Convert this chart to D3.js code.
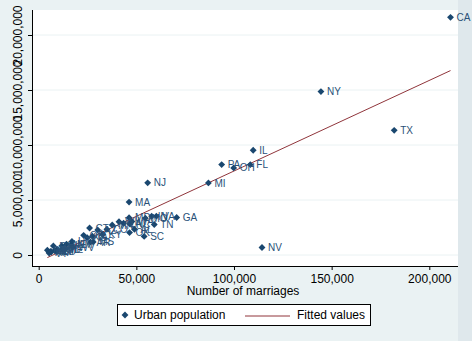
<!DOCTYPE html>
<html><head><meta charset="utf-8">
<script src="https://cdn.jsdelivr.net/npm/d3@7"></script>
<style>body{margin:0;background:#eaf2f3}svg{display:block;font-family:"Liberation Sans",Arial,sans-serif}</style>
</head><body><svg id="c" width="472" height="341"></svg>
<script>
const states=["AL","AK","AZ","AR","CA","CO","CT","DE","FL","GA","HI","ID","IL","IN","IA","KS","KY","LA","ME","MD","MA","MI","MN","MS","MO","MT","NE","NV","NH","NJ","NM","NY","NC","ND","OH","OK","OR","PA","RI","SC","SD","TN","TX","UT","VT","VA","WA","WV","WI","WY"];
const marriage=[49018,5361,30223,26513,210864,34917,26048,4437,108344,70638,11856,13428,109823,57853,27474,24847,32727,43460,12040,46278,46273,86898,37641,27908,54625,8336,14239,114333,9251,55794,16641,144518,46718,6094,99832,46515,23004,93680,7505,53999,8922,59175,182030,17023,5341,60247,47750,17362,41111,6514];
const urban=[2337713,258567,2278728,1179556,21607606,2329869,2449774,441351,8212385,3409081,834592,509702,9518039,3525298,1708232,1575899,1862183,2887309,534072,3386555,4808339,6551551,2725202,1192805,3349588,416402,987859,682947,480325,6557377,939963,14858068,2822852,318310,7918259,2035082,1788354,8220851,824004,1689253,320777,2773573,11333017,1233060,172735,3529423,3037014,705319,3020732,294639];
const xTicks=[0,50000,100000,150000,200000];
const yTicks=[0,5000000,10000000,15000000,20000000];
const legendLabels=["Urban population","Fitted values"];

const svg=d3.select("#c");
const navy="#1a476f", maroon="#90353b";
svg.append("rect").attr("x",458).attr("y",0).attr("width",14).attr("height",341).attr("fill","#dfe8ec");
svg.append("rect").attr("x",32).attr("y",10).attr("width",426).attr("height",256).attr("fill","#fff");

const x=d3.scaleLinear().domain([0,200000]).range([38.7,429.3]);
const y=d3.scaleLinear().domain([0,20000000]).range([255,35]);
const fmt=d3.format(",");

svg.append("g").selectAll("line").data(yTicks).join("line")
  .attr("x1",32).attr("x2",458).attr("y1",d=>y(d)).attr("y2",d=>y(d))
  .attr("stroke","#eaf2f3").attr("stroke-width",1);

const gy=svg.append("g").attr("transform","translate(32,0)")
  .call(d3.axisLeft(y).tickValues(yTicks).tickFormat(fmt).tickSize(4).tickSizeOuter(0));
gy.select(".domain").attr("d","M0.5,10V266.5");
gy.selectAll(".tick line").attr("stroke","#000");
gy.selectAll(".tick text").attr("transform","rotate(-90)").attr("x",0).attr("y",-10.5)
  .attr("dy",0).attr("text-anchor","middle").attr("font-size",12).attr("fill","#000")
  .style("font-family","'Liberation Sans',Arial,sans-serif");
const gx=svg.append("g").attr("transform","translate(0,266)")
  .call(d3.axisBottom(x).tickValues(xTicks).tickFormat(fmt).tickSize(4).tickSizeOuter(0));
gx.select(".domain").attr("d","M32,0.5H458");
gx.selectAll(".tick text").attr("y",8).attr("dy","0.71em").attr("font-size",12).attr("fill","#000")
  .style("font-family","'Liberation Sans',Arial,sans-serif");
svg.selectAll(".domain").attr("stroke","#000");

svg.append("text").attr("x",243).attr("y",294.5).attr("text-anchor","middle").attr("font-size",12).text("Number of marriages");

const n=marriage.length, mx=d3.mean(marriage), my=d3.mean(urban);
let sxy=0,sxx=0; for(let i=0;i<n;i++){sxy+=(marriage[i]-mx)*(urban[i]-my);sxx+=(marriage[i]-mx)**2;}
const b=sxy/sxx, a=my-b*mx;
const xr=d3.extent(marriage);
svg.append("line").attr("x1",x(xr[0])).attr("x2",x(xr[1])).attr("y1",y(a+b*xr[0])).attr("y2",y(a+b*xr[1]))
  .attr("stroke",maroon).attr("stroke-width",1);

const pts=states.map((s,i)=>({s,m:marriage[i],u:urban[i]}));
const diamond=d3.symbol().type(d3.symbolDiamond2).size(30);
svg.append("g").selectAll("path").data(pts).join("path")
  .attr("d",diamond).attr("transform",d=>`translate(${x(d.m)},${y(d.u)})`).attr("fill",navy);
svg.append("g").selectAll("text").data(pts).join("text")
  .attr("x",d=>x(d.m)+6).attr("y",d=>y(d.u)+3.6).attr("font-size",10).attr("fill","#2a5178").text(d=>d.s);

const lg=svg.append("g");
lg.append("rect").attr("x",117.5).attr("y",304.5).attr("width",253).attr("height",21).attr("fill","#fff").attr("stroke","#000");
lg.append("path").attr("d",diamond).attr("transform","translate(125,315)").attr("fill",navy);
lg.append("text").attr("x",134).attr("y",319).attr("font-size",12).text(legendLabels[0]);
lg.append("line").attr("x1",245).attr("x2",290).attr("y1",316).attr("y2",316).attr("stroke",maroon);
lg.append("text").attr("x",297).attr("y",319).attr("font-size",12).text(legendLabels[1]);
</script></body></html>
